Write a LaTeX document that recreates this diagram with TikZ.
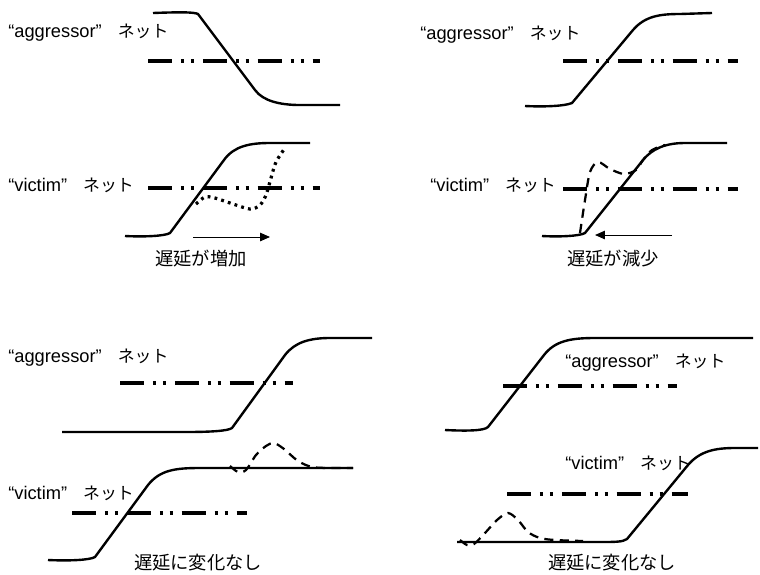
\documentclass[tikz,border=0pt]{standalone}
\usepackage{fontspec}
\setmainfont{Liberation Sans}
\newfontfamily\jp{Noto Sans CJK JP}
\usetikzlibrary{arrows.meta}
\newcommand{\netname}[1]{“#1” \hspace{0.6em}{\fontsize{12}{14}\selectfont\jp ネット}}
\begin{document}
\begin{tikzpicture}[x=0.025cm,y=-0.025cm,>={Triangle[length=7pt,width=6pt]},font=\fontsize{13}{15}\selectfont,
	sig/.style={line width=1.7pt,line join=round},
	vref/.style={line width=2.2pt,dash pattern=on 17pt off 6.4pt on 2.1pt off 5pt on 2.1pt off 6.4pt},
	xtalk/.style={line width=1.6pt,dash pattern=on 6.5pt off 4.5pt},
	xtalkdot/.style={line width=2.3pt,dash pattern=on 2pt off 3pt},
	netlbl/.style={anchor=west,inner sep=0pt},
	dlylbl/.style={inner sep=0pt,font=\fontsize{13}{15}\selectfont\jp}]
	\useasboundingbox (0,0) rectangle (760,574);
	% upper left: delay grows
	\node[netlbl] (aggA) at (8,33) {\netname{aggressor}};
	\draw[vref] (148,61) -- (320,61);
	\draw[sig] (153,13) .. controls (180,12) and (194,12) .. (198,14) -- (255,90) .. controls (263,101) and (280,105) .. (300,105) -- (340,105);
	\node[netlbl] (vicA) at (8,185) {\netname{victim}};
	\draw[vref] (148,188) -- (320,188);
	\draw[sig] (125,236) .. controls (145,237) and (165,236) .. (170,233) -- (224,160) .. controls (234,146) and (250,143) .. (270,143) -- (310,143);
	\draw[xtalkdot] plot[smooth] coordinates {(196,204) (205,197) (215,198) (230,203) (250,209) (260,205) (266,195) (271,178) (276,162) (285,148)};
	\coordinate (incA) at (193,237);
	\coordinate (incB) at (270,237);
	\draw[->,line width=0.7pt] (incA) -- (incB);
	\node[dlylbl] (dlyA) at (201,259) {遅延が増加};
	% upper right: delay shrinks
	\node[netlbl] (aggB) at (420,35) {\netname{aggressor}};
	\draw[vref] (563,61) -- (738,61);
	\draw[sig] (525,106) .. controls (545,107) and (565,106) .. (572,103) -- (633,30) .. controls (645,16) and (660,14) .. (680,14) -- (712,13);
	\node[netlbl] (vicB) at (430,185) {\netname{victim}};
	\draw[vref] (563,189) -- (738,189);
	\draw[sig] (542,236) .. controls (560,237) and (580,236) .. (585,233) -- (643,160) .. controls (652,149) and (665,143) .. (685,143) -- (727,143);
	\draw[xtalk] plot[smooth] coordinates {(580,233) (585,200) (590,172) (598,162) (610,169) (624,174) (636,170) (643,160) (652,150) (665,145)};
	\coordinate (decA) at (672,235);
	\coordinate (decB) at (595,235);
	\draw[->,line width=0.7pt] (decA) -- (decB);
	\node[dlylbl] (dlyB) at (613,259) {遅延が減少};
	% lower left: no change
	\node[netlbl] (aggC) at (8,358) {\netname{aggressor}};
	\draw[vref] (120,383) -- (293,383);
	\draw[sig] (62,432) -- (185,432) .. controls (210,432) and (228,431) .. (232,428) -- (285,355) .. controls (295,342) and (310,338) .. (330,338) -- (372,338);
	\node[netlbl] (vicC) at (8,493) {\netname{victim}};
	\draw[vref] (72,513) -- (247,513);
	\draw[sig] (48,560) .. controls (70,561) and (90,560) .. (95,557) -- (148,485) .. controls (160,470) and (175,468) .. (200,468) -- (353,468);
	\draw[xtalk] plot[smooth] coordinates {(230,466) (238,472) (246,470) (256,455) (266,446) (274,443) (284,449) (298,461) (312,467) (330,468) (353,468)};
	\node[dlylbl] (dlyC) at (198,563) {遅延に変化なし};
	% lower right: no change
	\node[netlbl] (aggD) at (565,363) {\netname{aggressor}};
	\draw[vref] (503,386) -- (677,386);
	\draw[sig] (445,430) .. controls (465,431) and (484,431) .. (488,427) -- (544,355) .. controls (555,341) and (570,338) .. (595,338) -- (753,338);
	\node[netlbl] (vicD) at (565,463) {\netname{victim}};
	\draw[vref] (507,494) -- (688,494);
	\draw[sig] (457,542) -- (600,542) .. controls (615,542) and (623,542) .. (627,539) -- (688,465) .. controls (700,451) and (715,448) .. (735,448) -- (758,448);
	\draw[xtalk] plot[smooth] coordinates {(460,540) (467,545) (474,544) (485,533) (497,520) (508,513) (518,520) (528,532) (540,538) (555,540) (583,541)};
	\node[dlylbl] (dlyD) at (612,563) {遅延に変化なし};
\end{tikzpicture}
\end{document}
